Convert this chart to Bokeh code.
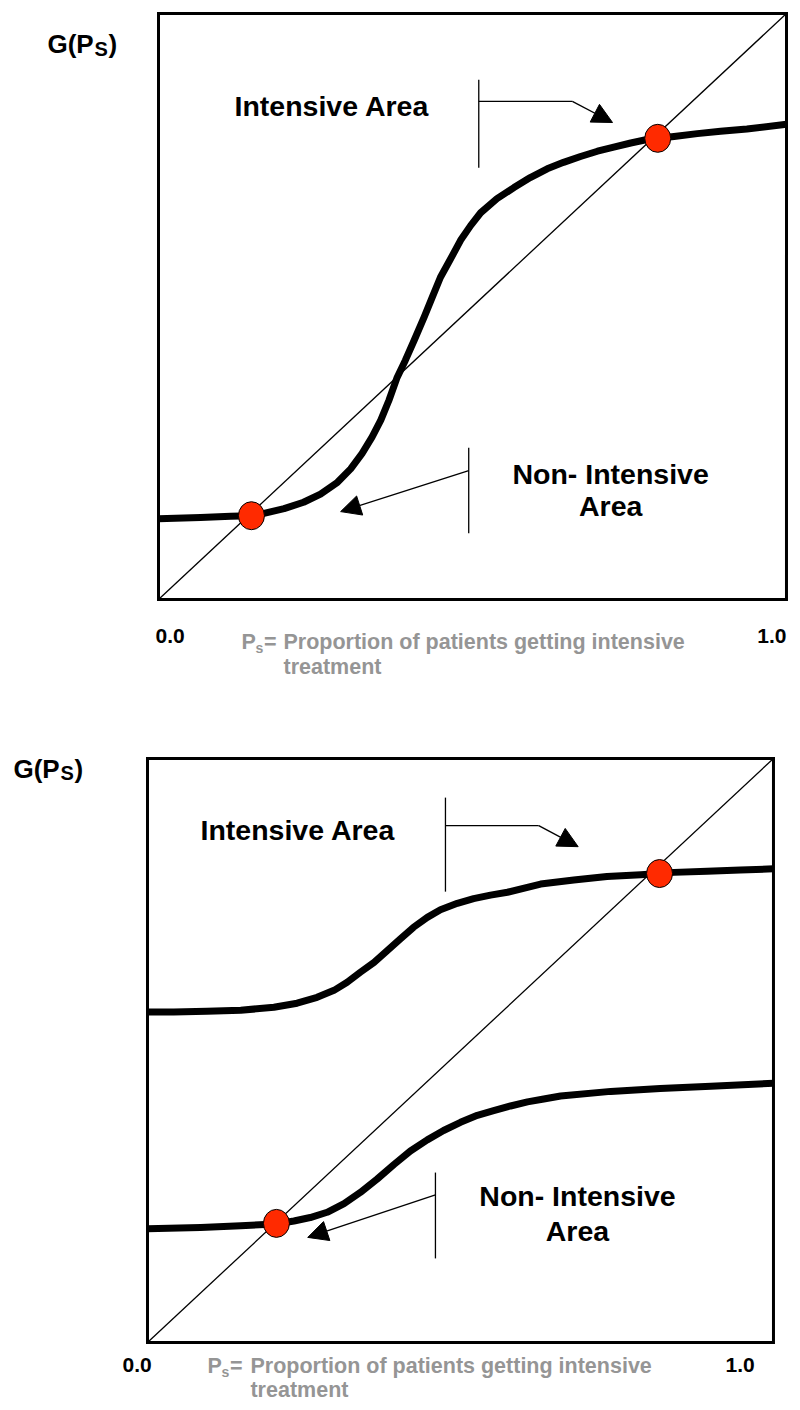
from bokeh.plotting import figure
from bokeh.models import Range1d, Label, Arrow, NormalHead
from bokeh.layouts import column
from bokeh.embed import file_html
from bokeh.resources import INLINE

# ---------------- data ----------------
# Panel 1: single S-shaped curve G(Ps)
p1_x = [0.0, 0.067, 0.115, 0.147, 0.168, 0.200, 0.231, 0.258, 0.285, 0.306,
        0.324, 0.340, 0.354, 0.367, 0.380, 0.393, 0.407, 0.423, 0.436, 0.449,
        0.465, 0.481, 0.497, 0.513, 0.539, 0.566, 0.592, 0.619, 0.645, 0.672,
        0.699, 0.725, 0.752, 0.778, 0.821, 0.858, 0.895, 0.937, 1.0]
p1_y = [0.138, 0.140, 0.142, 0.143, 0.147, 0.155, 0.166, 0.180, 0.200, 0.223,
        0.249, 0.277, 0.306, 0.340, 0.379, 0.408, 0.442, 0.482, 0.516, 0.550,
        0.581, 0.613, 0.638, 0.660, 0.684, 0.703, 0.720, 0.735, 0.746, 0.756,
        0.765, 0.772, 0.779, 0.785, 0.790, 0.795, 0.799, 0.803, 0.811]
p1_eq_x = [0.148, 0.795]
p1_eq_y = [0.143, 0.787]

# Panel 2: two shifted curves
p2_up_x = [0.0, 0.042, 0.095, 0.149, 0.202, 0.239, 0.271, 0.298, 0.319, 0.340,
           0.362, 0.383, 0.404, 0.425, 0.447, 0.468, 0.495, 0.521, 0.548, 0.575,
           0.628, 0.681, 0.734, 0.788, 0.841, 0.894, 0.947, 1.0]
p2_up_y = [0.566, 0.566, 0.567, 0.569, 0.574, 0.581, 0.591, 0.603, 0.617, 0.634,
           0.651, 0.671, 0.691, 0.711, 0.728, 0.741, 0.752, 0.760, 0.766, 0.771,
           0.785, 0.792, 0.798, 0.801, 0.805, 0.807, 0.809, 0.811]
p2_lo_x = [0.0, 0.085, 0.149, 0.205, 0.234, 0.260, 0.287, 0.314, 0.340, 0.367,
           0.394, 0.420, 0.447, 0.473, 0.500, 0.527, 0.553, 0.580, 0.607, 0.633,
           0.660, 0.740, 0.819, 0.900, 1.0]
p2_lo_y = [0.195, 0.197, 0.200, 0.203, 0.208, 0.214, 0.223, 0.238, 0.257, 0.280,
           0.305, 0.328, 0.347, 0.363, 0.377, 0.389, 0.397, 0.405, 0.412, 0.417,
           0.422, 0.430, 0.435, 0.439, 0.444]
p2_eq_x = [0.206, 0.818]
p2_eq_y = [0.204, 0.803]

diag = [0.0, 1.0]
tick_labels = ["0.0", "1.0"]
x_label = ["P", "s", "=", "Proportion of patients getting intensive", "treatment"]
y_label = ["G(P", "S", ")"]
area_labels = ["Intensive Area", "Non- Intensive", "Area"]

FONT = "Liberation Sans"
GRAY = "#959595"
RED = "#ff2a00"


def panel(width, height, xr, yr):
    p = figure(width=width, height=height, x_range=Range1d(*xr), y_range=Range1d(*yr),
               output_backend="svg", toolbar_location=None,
               x_axis_location=None, y_axis_location=None, title=None,
               min_border_left=0, min_border_right=0,
               min_border_top=0, min_border_bottom=0)
    p.xgrid.visible = False
    p.ygrid.visible = False
    p.outline_line_color = None
    p.background_fill_color = "white"
    p.border_fill_color = "white"
    # plot box (the unit square)
    p.quad(left=[0], right=[1], bottom=[0], top=[1], fill_color=None,
           line_color="black", line_width=3, line_join="miter")
    p.line(diag, diag, line_color="black", line_width=1.3)
    return p


def lab(p, x, y, text, size, color="black", align="left"):
    p.add_layout(Label(x=x, y=y, text=text, text_font=FONT, text_font_size=f"{size}px",
                       text_font_style="bold", text_color=color, text_align=align,
                       text_baseline="alphabetic"))


def callouts(p, ix, iy0, iy1, hy, hx1, ax, ay, nx, ny0, ny1, sx, sy, tx, ty):
    p.segment(x0=[ix], y0=[iy0], x1=[ix], y1=[iy1], line_color="black", line_width=1.3)
    p.segment(x0=[ix], y0=[hy], x1=[hx1], y1=[hy], line_color="black", line_width=1.3)
    p.add_layout(Arrow(end=NormalHead(size=20, fill_color="black", line_color="black"),
                       x_start=hx1, y_start=hy, x_end=ax, y_end=ay,
                       line_color="black", line_width=1.3))
    p.segment(x0=[nx], y0=[ny0], x1=[nx], y1=[ny1], line_color="black", line_width=1.3)
    p.add_layout(Arrow(end=NormalHead(size=20, fill_color="black", line_color="black"),
                       x_start=sx, y_start=sy, x_end=tx, y_end=ty,
                       line_color="black", line_width=1.3))


# ---------------- panel 1 ----------------
p1 = panel(790, 740, (-0.2516, 1.0064), (-0.2406, 1.0222))
p1.line(p1_x, p1_y, line_color="black", line_width=7, line_join="round")
p1.ellipse(p1_eq_x, p1_eq_y, width=26, height=28, width_units="screen", height_units="screen",
           fill_color=RED, line_color="black", line_width=1)
callouts(p1, 0.510, 0.887, 0.737, 0.850, 0.659, 0.723, 0.814,
         0.494, 0.259, 0.113, 0.494, 0.220, 0.290, 0.150)
lab(p1, 0.121, 0.843, area_labels[0], 28.5)
lab(p1, 0.720, 0.215, area_labels[1], 28.5, align="center")
lab(p1, 0.720, 0.159, area_labels[2], 28.5, align="center")
lab(p1, -0.1768, 0.948, y_label[0], 26)
lab(p1, -0.1019, 0.940, y_label[1], 20)
lab(p1, -0.0796, 0.948, y_label[2], 26)
lab(p1, -0.0048, -0.0620, tick_labels[0], 21)
lab(p1, 1.0, -0.0620, tick_labels[1], 21, align="right")
lab(p1, 0.1322, -0.0723, x_label[0], 21.5, GRAY)
lab(p1, 0.1545, -0.0829, x_label[1], 14, GRAY)
lab(p1, 0.1680, -0.0723, x_label[2], 21.5, GRAY)
lab(p1, 0.1990, -0.0723, x_label[3], 21.5, GRAY)
lab(p1, 0.1990, -0.1150, x_label[4], 21.5, GRAY)

# ---------------- panel 2 ----------------
p2 = panel(790, 670, (-0.2348, 1.0272), (-0.1164, 1.0308))
p2.line(p2_up_x, p2_up_y, line_color="black", line_width=7, line_join="round")
p2.line(p2_lo_x, p2_lo_y, line_color="black", line_width=7, line_join="round")
p2.ellipse(p2_eq_x, p2_eq_y, width=26, height=28, width_units="screen", height_units="screen",
           fill_color=RED, line_color="black", line_width=1)
callouts(p2, 0.476, 0.933, 0.772, 0.885, 0.625, 0.688, 0.849,
         0.460, 0.291, 0.144, 0.460, 0.253, 0.256, 0.180)
lab(p2, 0.0847, 0.8767, area_labels[0], 28.5)
lab(p2, 0.6869, 0.2517, area_labels[1], 28.5, align="center")
lab(p2, 0.6869, 0.1917, area_labels[2], 28.5, align="center")
lab(p2, -0.2141, 0.9822, y_label[0], 26)
lab(p2, -0.1390, 0.9755, y_label[1], 20)
lab(p2, -0.1166, 0.9822, y_label[2], 26)
lab(p2, -0.0399, -0.0382, tick_labels[0], 21)
lab(p2, 0.9233, -0.0382, tick_labels[1], 21)
lab(p2, 0.0958, -0.0401, x_label[0], 21.5, GRAY)
lab(p2, 0.1182, -0.0507, x_label[1], 14, GRAY)
lab(p2, 0.1318, -0.0401, x_label[2], 21.5, GRAY)
lab(p2, 0.1645, -0.0401, x_label[3], 21.5, GRAY)
lab(p2, 0.1645, -0.0812, x_label[4], 21.5, GRAY)

layout = column(p1, p2, spacing=0)
open("out.html", "w").write(file_html(layout, INLINE))
